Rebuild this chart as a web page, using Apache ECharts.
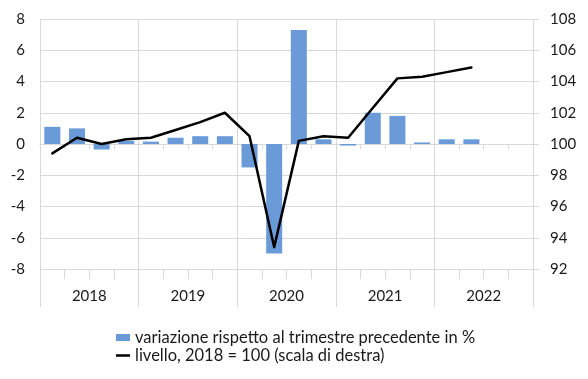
<!DOCTYPE html>
<html>
<head>
<meta charset="utf-8">
<script src="https://cdn.jsdelivr.net/npm/echarts@6/dist/echarts.min.js"></script>
<style>
html,body{margin:0;padding:0;background:#fff;}
#c{width:588px;height:379px;}
</style>
</head>
<body>
<div id="c"></div>
<script>
const quarters = ['2018 T1','2018 T2','2018 T3','2018 T4','2019 T1','2019 T2','2019 T3','2019 T4','2020 T1','2020 T2','2020 T3','2020 T4','2021 T1','2021 T2','2021 T3','2021 T4','2022 T1','2022 T2','2022 T3','2022 T4'];
const years = ['2018','2019','2020','2021','2022'];
const variazione = [1.1, 1.0, -0.35, 0.2, 0.15, 0.4, 0.5, 0.5, -1.5, -7.0, 7.3, 0.3, -0.1, 2.0, 1.8, 0.1, 0.3, 0.3];
const livello = [99.4, 100.4, 100.0, 100.3, 100.4, 100.9, 101.4, 102.0, 100.5, 93.4, 100.2, 100.5, 100.4, 102.3, 104.2, 104.3, 104.6, 104.9];
const leftTicks = {min: -8, max: 8, interval: 2};
const rightTicks = {min: 92, max: 108, interval: 2};
const nameBar = 'variazione rispetto al trimestre precedente in %';
const nameLine = 'livello, 2018 = 100 (scala di destra)';

const FONT = 'Lato';
const TXT = '#1a1a1a';
const GRID = '#d9d9d9';

const chart = echarts.init(document.getElementById('c'), null, {renderer: 'canvas'});
chart.setOption({
  animation: false,
  textStyle: {fontFamily: FONT},
  grid: {left: 40, right: 55, top: 19, bottom: 110, containLabel: false},
  legend: {
    orient: 'vertical', left: 111, top: 324, itemGap: 1,
    itemWidth: 14, itemHeight: 7, symbolKeepAspect: true,
    textStyle: {fontFamily: FONT, fontSize: 16.5, color: TXT},
    data: [
      {name: nameBar, icon: 'rect'},
      {name: nameLine, icon: 'path://M0,0 L28,0 L28,5 L0,5 Z', itemStyle: {color: '#000'}}
    ]
  },
  xAxis: [
    {
      type: 'category', data: quarters, boundaryGap: true,
      axisLine: {show: true, onZero: true, lineStyle: {color: GRID, width: 1}},
      axisTick: {show: true, length: 5, interval: 0, lineStyle: {color: GRID}},
      axisLabel: {show: false}, splitLine: {show: false}
    },
    {
      type: 'category', data: years, position: 'bottom', boundaryGap: true,
      axisLine: {show: false, onZero: false},
      axisTick: {show: true, length: 38, interval: 0, lineStyle: {color: GRID}},
      axisLabel: {show: true, interval: 0, margin: 20, fontFamily: FONT, fontSize: 15, color: TXT},
      splitLine: {show: true, interval: 0, lineStyle: {color: GRID}}
    },
    {
      type: 'category', data: quarters, position: 'bottom', boundaryGap: true,
      axisLine: {show: false, onZero: false},
      axisTick: {show: true, length: 10, interval: 0, lineStyle: {color: GRID}},
      axisLabel: {show: false}, splitLine: {show: false}
    }
  ],
  yAxis: [
    {
      type: 'value', min: leftTicks.min, max: leftTicks.max, interval: leftTicks.interval,
      axisLine: {show: false}, axisTick: {show: false},
      axisLabel: {margin: 15, fontFamily: FONT, fontSize: 15, color: TXT},
      splitLine: {show: true, lineStyle: {color: GRID}}
    },
    {
      type: 'value', min: rightTicks.min, max: rightTicks.max, interval: rightTicks.interval,
      position: 'right',
      axisLine: {show: false}, axisTick: {show: true, length: 6, lineStyle: {color: GRID}},
      axisLabel: {margin: 17, fontFamily: FONT, fontSize: 15, color: TXT},
      splitLine: {show: false}
    }
  ],
  series: [
    {
      name: nameBar, type: 'bar', xAxisIndex: 0, yAxisIndex: 0,
      data: variazione, barCategoryGap: '35%',
      itemStyle: {color: '#6a9bd8'}
    },
    {
      name: nameLine, type: 'line', xAxisIndex: 0, yAxisIndex: 1,
      data: livello, symbol: 'none',
      lineStyle: {color: '#000', width: 2.5, join: 'round', cap: 'round'},
      itemStyle: {color: '#000'}
    }
  ]
});
</script>
</body>
</html>
